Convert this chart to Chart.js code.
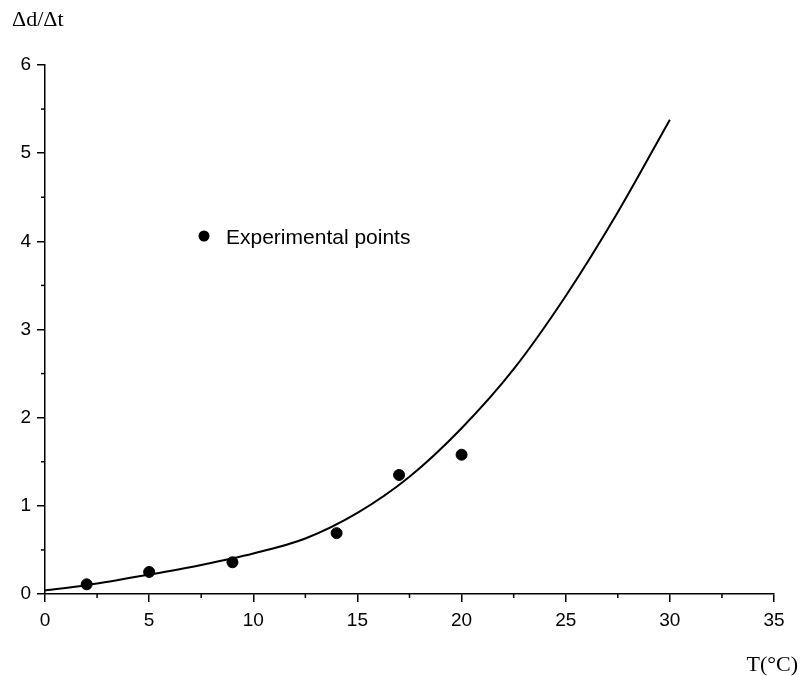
<!DOCTYPE html>
<html>
<head>
<meta charset="utf-8">
<script src="https://cdn.jsdelivr.net/npm/chart.js@4/dist/chart.umd.min.js"></script>
<style>
html,body{margin:0;padding:0;background:#fff;}
#wrap{width:800px;height:676px;}
</style>
</head>
<body>
<div id="wrap"><canvas id="c" width="800" height="676"></canvas></div>
<script>
const curveX = [0, 2, 5, 7.5, 10, 12.5, 15, 17.5, 20, 22.5, 25, 27.5, 30];
const curveY = [0.04, 0.10, 0.22, 0.33, 0.46, 0.63, 0.92, 1.33, 1.88, 2.55, 3.38, 4.33, 5.38];
const pointsX = [2, 5, 9, 14, 17, 20];
const pointsY = [0.11, 0.25, 0.36, 0.69, 1.35, 1.58];
const xTicks = [0, 5, 10, 15, 20, 25, 30, 35];
const yTicks = [0, 1, 2, 3, 4, 5, 6];
const xMinor = [2.5, 7.5, 12.5, 17.5, 22.5, 27.5, 32.5];
const yMinor = [0.5, 1.5, 2.5, 3.5, 4.5, 5.5];
const legendLabel = 'Experimental points';
const xTitle = 'T(°C)';
const yTitle = 'Δd/Δt';

const extras = {
  id: 'extras',
  afterDraw(chart) {
    const ctx = chart.ctx;
    const xs = chart.scales.x, ys = chart.scales.y;
    ctx.save();
    ctx.strokeStyle = '#000';
    ctx.lineWidth = 1.5;
    const bottom = chart.chartArea.bottom, left = chart.chartArea.left;
    xMinor.forEach(v => {
      const px = xs.getPixelForValue(v);
      ctx.beginPath(); ctx.moveTo(px, bottom); ctx.lineTo(px, bottom + 4); ctx.stroke();
    });
    yMinor.forEach(v => {
      const py = ys.getPixelForValue(v);
      ctx.beginPath(); ctx.moveTo(left, py); ctx.lineTo(left - 4, py); ctx.stroke();
    });
    ctx.fillStyle = '#000';
    ctx.font = '22px "Liberation Serif", "Times New Roman", serif';
    ctx.textBaseline = 'alphabetic';
    ctx.textAlign = 'left';
    ctx.fillText(yTitle, 12, 26);
    ctx.textAlign = 'right';
    ctx.fillText(xTitle, 798, 671);
    // legend
    ctx.beginPath();
    ctx.arc(204, 236, 5.5, 0, Math.PI * 2);
    ctx.fill();
    ctx.textAlign = 'left';
    ctx.textBaseline = 'middle';
    ctx.font = '21px "Liberation Sans", Arial, sans-serif';
    ctx.fillText(legendLabel, 226, 238);
    ctx.restore();
  }
};

new Chart(document.getElementById('c'), {
  type: 'scatter',
  data: {
    datasets: [
      {
        type: 'line',
        data: curveX.map((x, i) => ({x: x, y: curveY[i]})),
        borderColor: '#000',
        borderWidth: 2,
        pointRadius: 0,
        cubicInterpolationMode: 'monotone',
        fill: false
      },
      {
        data: pointsX.map((x, i) => ({x: x, y: pointsY[i]})),
        backgroundColor: '#000',
        borderColor: '#000',
        pointRadius: 5.5,
        pointHoverRadius: 5.5
      }
    ]
  },
  plugins: [extras],
  options: {
    responsive: false,
    animation: false,
    events: [],
    layout: {padding: {left: 0, right: 26, top: 65, bottom: 0}},
    plugins: {legend: {display: false}, tooltip: {enabled: false}},
    scales: {
      x: {
        type: 'linear',
        min: 0, max: 35,
        afterFit(s) { s.height = 82; },
        afterBuildTicks(s) { s.ticks = xTicks.map(v => ({value: v})); },
        grid: {drawOnChartArea: false, drawTicks: true, tickLength: 8, color: '#000', lineWidth: 1.5},
        border: {color: '#000', width: 1.5},
        ticks: {color: '#000', padding: 7, font: {size: 19, family: '"Liberation Sans", Arial, sans-serif'}, maxRotation: 0}
      },
      y: {
        type: 'linear',
        min: 0, max: 6,
        afterFit(s) { s.width = 45; },
        afterBuildTicks(s) { s.ticks = yTicks.map(v => ({value: v})); },
        grid: {drawOnChartArea: false, drawTicks: true, tickLength: 8, color: '#000', lineWidth: 1.5},
        border: {color: '#000', width: 1.5},
        ticks: {color: '#000', padding: 6, font: {size: 19, family: '"Liberation Sans", Arial, sans-serif'}}
      }
    }
  }
});
</script>
</body>
</html>
